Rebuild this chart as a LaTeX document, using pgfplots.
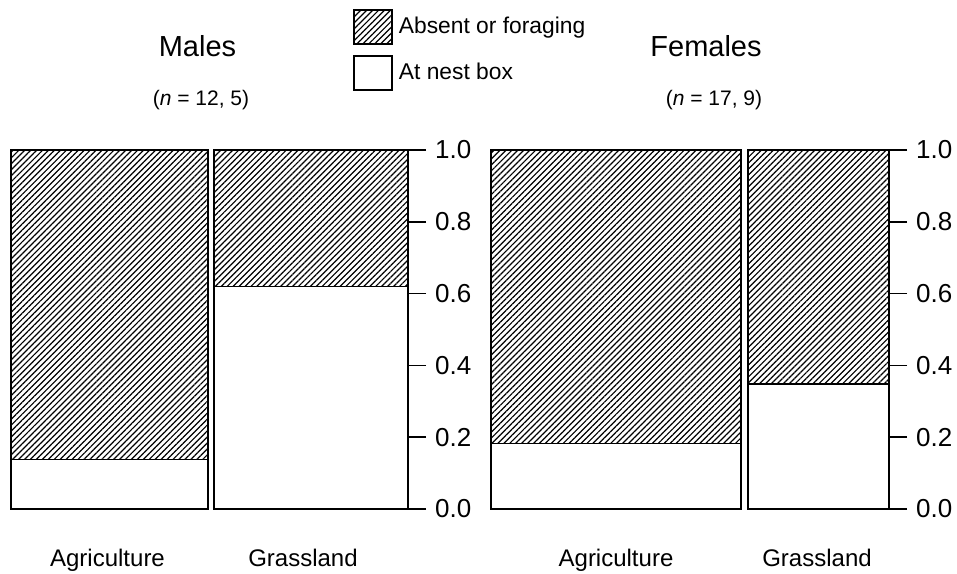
\documentclass[border=0pt]{standalone}
\usepackage{fontspec}
\setmainfont{Liberation Sans}
\usepackage{pgfplots}
\pgfplotsset{compat=1.18}
\usetikzlibrary{patterns.meta}

\pgfplotsset{
  panel/.style={
    scale only axis,
    height=179.5pt,
    ymin=0, ymax=1,
    clip=false,
    axis y line=right,
    axis x line=none,
    y axis line style={-, line width=0.75pt, black},
    ytick={0,0.2,0.4,0.6,0.8,1},
    tick align=outside,
    major tick length=9pt,
    ytick style={line width=0.75pt, black},
    yticklabel style={font=\fontsize{13}{15}\selectfont, xshift=1pt,
      /pgf/number format/fixed, /pgf/number format/fixed zerofill,
      /pgf/number format/precision=1, /pgf/number format/assume math mode=true},
  },
  hatch/.style={draw=black, line width=0.75pt,
    pattern={Lines[angle=45,distance=2.1pt,line width=0.6pt]}},
  plain/.style={draw=black, line width=0.75pt, fill=white},
}

\begin{document}
\begin{tikzpicture}[x=0.5pt,y=0.5pt]
\useasboundingbox (0,0) rectangle (957,573);

% Males
\begin{axis}[panel,
  at={(5.5pt,32pt)}, anchor=south west,
  width=198.5pt, xmin=11, xmax=408,
  legend style={draw=none, fill=none, at={(axis cs:353,1.393)}, anchor=north west,
    inner sep=0pt, nodes={inner sep=0pt}, column sep=3pt, row sep=5.25pt,
    font=\fontsize{11.4}{13}\selectfont},
  legend cell align=left,
  legend image code/.code={\draw[#1] (0pt,-8.5pt) rectangle (19pt,8.5pt);},
]
\addplot[hatch] coordinates {(11,0.138) (11,1) (208,1) (208,0.138)} -- cycle;
\addlegendentry{Absent or foraging}
\addplot[plain] coordinates {(11,0) (11,0.138) (208,0.138) (208,0)} -- cycle;
\addlegendentry{At nest box}
\addplot[hatch] coordinates {(214,0.620) (214,1) (408,1) (408,0.620)} -- cycle;
\addplot[plain] coordinates {(214,0) (214,0.620) (408,0.620) (408,0)} -- cycle;
\end{axis}

% Females
\begin{axis}[panel,
  at={(245.5pt,32pt)}, anchor=south west,
  width=199pt, xmin=491, xmax=889,
]
\addplot[hatch] coordinates {(491,0.183) (491,1) (741,1) (741,0.183)} -- cycle;
\addplot[plain] coordinates {(491,0) (491,0.183) (741,0.183) (741,0)} -- cycle;
\addplot[hatch] coordinates {(748,0.348) (748,1) (889,1) (889,0.348)} -- cycle;
\addplot[plain] coordinates {(748,0) (748,0.348) (889,0.348) (889,0)} -- cycle;
\end{axis}

% titles
\node[anchor=base, font=\fontsize{14.5}{17}\selectfont] at (197.5,516) {Males};
\node[anchor=base, font=\fontsize{10.5}{12}\selectfont] at (201,467) {(\textit{n} = 12, 5)};
\node[anchor=base, font=\fontsize{14.5}{17}\selectfont] at (706,516) {Females};
\node[anchor=base, font=\fontsize{10.5}{12}\selectfont] at (714,467) {(\textit{n} = 17, 9)};

% category labels
\node[anchor=base, font=\fontsize{12}{14}\selectfont] at (107.5,7) {Agriculture};
\node[anchor=base, font=\fontsize{12}{14}\selectfont] at (303,7) {Grassland};
\node[anchor=base, font=\fontsize{12}{14}\selectfont] at (616,7) {Agriculture};
\node[anchor=base, font=\fontsize{12}{14}\selectfont] at (817,7) {Grassland};
\end{tikzpicture}
\end{document}
